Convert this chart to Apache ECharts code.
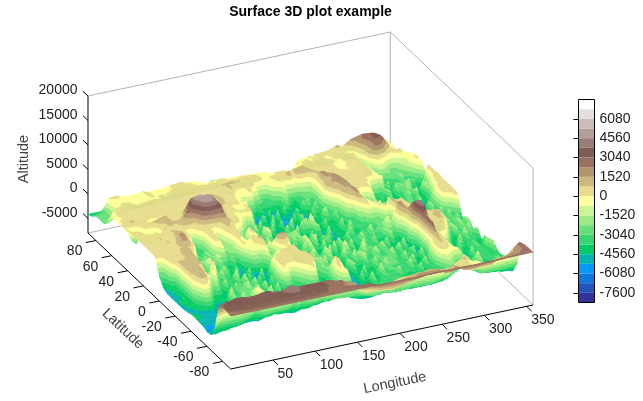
<!DOCTYPE html>
<html><head><meta charset="utf-8">
<style>html,body{margin:0;padding:0;background:#fff}#c{width:643px;height:401px}</style>
<script src="https://cdn.jsdelivr.net/npm/echarts@6/dist/echarts.min.js"></script>
</head><body><div id="c"></div>
<script>
const chartTitle='Surface 3D plot example';
const lonTicks=[50,100,150,200,250,300,350];
const latTicks=[80,60,40,20,0,-20,-40,-60,-80];
const altTicks=[20000,15000,10000,5000,0,-5000];
const barTicks=[6080,4560,3040,1520,0,-1520,-3040,-4560,-6080,-7600];
const bandLows=[-8360,-7600,-6840,-6080,-5320,-4560,-3800,-3040,-2280,-1520,-760,0,760,1520,2280,3040,3800,4560,5320,6080,6840];
const bandColors=['#333399','#2255bb','#1177dd','#0099ff','#00b3b3','#00cc66','#33d670','#66e07a','#99eb85','#ccf58f','#ffff99','#e6dc8b','#ccb87d','#b3946f','#997062','#805c54','#997c76','#b39e99','#ccbdba','#e6dedd','#ffffff'];
const bandTop=7600;
const LON_STEP=2.5; // columns run from 0 to 357.5
const latitudes=[90,85,80,75,70,65,60,55,50,45,40,35,30,25,20,15,10,5,0,-5,-10,-15,-20,-25,-30,-35,-40,-45,-50,-55,-60,-65,-70,-75,-80,-85,-90];
const ELEV_UNIT=100; // altitude rows are in hundreds of metres
const n90=[-42,-42,-42,-42,-42,-42,-42,-42,-42,-42,-42,-42,-42,-42,-42,-42,-42,-42,-42,-42,-42,-42,-42,-42, -42,-42,-42,-42,-42,-42,-42,-42,-42,-42,-42,-42,-42,-42,-42,-42,-42,-42,-42,-42,-42,-42,-42,-42, -42,-42,-42,-42,-42,-42,-42,-42,-42,-42,-42,-42,-42,-42,-42,-42,-42,-42,-42,-42,-42,-42,-42,-42, -42,-42,-42,-42,-42,-42,-42,-42,-42,-42,-42,-42,-42,-42,-42,-42,-42,-42,-42,-42,-42,-42,-42,-42, -42,-42,-42,-42,-42,-42,-42,-42,-42,-42,-42,-42,-42,-42,-42,-42,-42,-42,-42,-42,-42,-42,-42,-42, -42,-42,-42,-42,-42,-42,-42,-42,-42,-42,-42,-42,-42,-42,-42,-42,-42,-42,-42,-42,-42,-42,-42,-42];
const n85=[-38,-37,-36,-35,-34,-36,-38,-39,-40,-40,-39,-38,-38,-38,-38,-38,-38,-39,-39,-40,-40,-40,-40,-40, -40,-40,-40,-40,-40,-40,-39,-38,-38,-38,-38,-38,-38,-37,-37,-37,-38,-38,-38,-37,-38,-37,-36,-35, -35,-34,-34,-32,-30,-28,-25,-20,-18,-17,-18,-22,-25,-28,-30,-30,-30,-31,-32,-33,-34,-35,-36,-36, -36,-37,-38,-38,-38,-38,-38,-38,-38,-38,-38,-38,-38,-38,-38,-38,-38,-38,-38,-37,-36,-35,-34,-32, -30,-29,-28,-27,-26,-25,-24,-23,-22,-20,-18,-16,-15,-13,-12,-11,-10,-10,-10,-9,-8,-6,-5,-4, -5,-6,-8,-9,-10,-8,-5,-6,-8,-9,-10,-12,-15,-18,-20,-22,-25,-28,-30,-32,-34,-35,-36,-37];
const n80=[-30,-30,-30,-28,-25,-12,0,1,1,2,2,0,-2,-2,-2,-3,-3,-2,-2,-3,-3,-1,0,-1, -3,-4,-4,-3,-3,-3,-3,-2,-2,-1,-1,0,0,1,1,2,2,1,-1,-1,-1,-1,-2,-3, -3,-8,-15,-18,-20,-21,-22,-24,-25,-26,-26,-27,-26,-27,-28,-28,-28,-29,-30,-30,-30,-30,-31,-32, -33,-33,-33,-34,-34,-34,-35,-36,-36,-36,-36,-36,-36,-36,-36,-36,-36,-36,-35,-34,-32,-30,-28,-15, -3,-3,-2,-1,0,0,-1,0,1,1,2,2,2,3,3,5,6,8,10,8,5,6,8,12, 15,17,18,19,20,21,22,21,20,18,15,12,10,8,5,3,2,0,-3,-10,-20,-24,-28,-30];
const n75=[-30,-30,-30,-28,-25,-14,-3,-3,-2,-3,-3,-3,-3,-3,-3,-3,-3,-3,-3,-3,-3,-2,0,3, 2,-1,-2,-2,-1,-1,-1,-1,-1,0,0,1,1,1,2,2,3,3,3,2,1,0,-1,-1, -1,-1,-1,-1,-1,-1,-1,0,1,1,1,0,-1,-1,-1,-1,-1,-1,-1,-1,-2,-2,-3,-3, -3,-3,-3,-3,-3,-4,-5,-12,-20,-25,-30,-33,-35,-36,-35,-36,-35,-33,-30,-18,-3,-3,-3,-1, 1,1,2,1,-1,0,1,1,2,1,0,-1,-2,0,3,3,3,3,3,2,1,-2,-5,-3, -2,4,10,16,22,25,28,29,30,29,28,25,22,16,8,4,1,0,-2,-8,-15,-20,-25,-28];
const n70=[-30,-30,-30,-28,-25,-22,-20,-10,0,1,2,1,1,-1,-2,-2,-2,-1,-1,-1,-1,-1,-1,-1, -1,-1,0,1,1,0,0,1,1,1,1,2,2,2,3,4,5,5,4,3,3,3,2,2, 2,1,1,2,3,2,2,1,1,1,1,1,1,1,1,1,1,2,2,2,3,3,4,3, 2,1,-1,-1,-1,-1,-1,-1,-1,0,0,0,0,0,-1,-5,-10,-8,-5,-2,0,1,1,2, 2,2,3,3,2,2,1,1,2,1,1,1,1,0,-1,-1,0,1,3,4,5,5,5,-8, -20,-12,-5,3,12,18,22,28,32,32,32,30,25,18,12,5,-3,-8,-15,-20,-25,-28,-30,-30];
const n65=[-20,-12,-5,1,5,6,7,5,3,2,1,2,3,2,1,1,1,1,1,1,2,2,2,3, 4,2,1,1,1,1,1,1,1,1,1,1,1,1,2,3,4,5,5,5,4,4,5,4, 3,2,2,3,5,7,8,8,8,9,10,10,9,8,8,7,6,5,5,5,5,4,3,2, 1,0,-1,-1,-1,0,1,1,1,2,3,3,3,3,4,6,8,9,10,11,12,8,5,4, 3,3,3,3,3,3,3,3,2,1,1,0,-1,-1,-1,-1,-1,0,1,1,2,3,4,-5, -20,-25,-25,-8,10,16,22,26,28,24,20,12,5,1,-2,1,3,4,5,1,-3,-6,-8,-14];
const n60=[-2,-1,-1,2,5,4,3,2,1,1,1,1,1,1,2,2,2,2,1,1,2,2,2,2, 3,2,1,1,1,1,1,1,1,1,1,1,1,2,3,4,4,3,3,3,4,4,4,3, 3,3,3,2,2,2,3,5,10,5,1,0,-1,-1,-2,0,1,2,3,1,-3,-14,-25,-30, -35,-32,-30,-18,-5,-3,-1,0,1,1,2,8,15,6,-3,6,15,14,12,12,12,11,10,8, 6,6,5,5,5,4,4,3,3,2,1,0,-1,-1,-1,0,1,2,3,3,3,2,1,-12, -25,-28,-30,-28,-25,-14,-3,-4,-5,-12,-20,-22,-25,-25,-25,-20,-15,-12,-10,-8,-7,-4,-2,-2];
const n55=[-1,-1,-1,0,1,0,0,0,1,1,2,2,2,2,2,2,1,1,1,1,1,1,2,2, 3,2,2,1,1,1,1,1,2,2,3,6,10,9,8,6,5,6,8,10,12,11,10,8, 6,5,5,5,5,6,8,4,0,-3,-5,-8,-10,-8,-7,-1,5,-15,-30,-34,-38,-36,-35,-34, -35,-35,-35,-36,-38,-34,-30,-18,-5,-20,-30,-35,-40,-38,-35,-32,-28,-24,-20,-20,-20,-10,2,6, 10,9,8,7,6,5,5,4,3,2,2,1,1,1,1,0,0,1,3,4,5,4,3,0, -2,-16,-28,-30,-32,-31,-30,-29,-28,-27,-25,-25,-25,-26,-27,-26,-25,-20,-15,-10,-2,-1,1,0];
const n50=[-1,0,2,3,4,4,4,3,3,2,2,2,2,2,2,1,1,1,0,0,1,1,2,2, 3,3,3,4,5,5,5,5,6,12,20,20,20,19,18,19,20,16,12,11,10,8,7,8, 9,7,5,4,3,4,5,0,-5,-8,-10,-12,-15,-22,-30,-48,-60,-58,-58,-30,-55,-54,-53,-53, -53,-53,-54,-52,-50,-49,-48,-20,-46,-46,-46,-45,-43,-42,-40,-39,-38,-25,-34,-32,-30,-14,1,10, 20,18,15,14,12,10,8,6,5,5,4,3,3,3,3,3,3,4,4,5,5,4,3,0, -2,-16,-30,-35,-40,-41,-42,-41,-40,-39,-38,-37,-36,-18,-35,-35,-35,-35,-40,-30,-20,-10,-1,-2];
const n45=[1,3,5,8,10,8,5,3,1,2,2,0,-1,-5,-10,-8,-5,-2,0,-2,-3,-1,1,1, 1,1,2,3,4,4,5,5,6,10,15,14,12,14,15,15,15,14,12,11,10,10,10,9, 8,5,2,2,3,4,5,-2,-10,-5,0,-25,-50,-52,-55,-56,-57,-57,-56,-56,-55,-56,-58,-57, -56,-55,-55,-55,-30,-54,-54,-53,-52,-51,-50,-48,-46,-45,-44,-20,-40,-38,-36,-33,-30,-12,5,8, 12,14,15,16,18,14,10,7,5,4,3,2,2,1,0,1,2,2,2,2,2,0,-1,-3, -4,-4,-4,-28,-50,-49,-48,-45,-42,-25,-30,-29,-28,-30,-32,-37,-42,-45,-48,-47,-46,-43,-40,-20];
const n40=[3,-10,-20,-24,-28,-18,-10,-2,6,3,1,5,8,10,11,13,15,15,15,6,-3,0,2,2, 2,2,3,12,25,32,40,30,20,17,15,14,14,16,20,18,15,15,15,14,12,8,5,2, 0,2,3,-12,-25,-28,-30,-15,3,-30,-58,-56,-55,-55,-55,-56,-56,-28,-57,-57,-56,-55,-55,-55, -56,-57,-58,-57,-56,-55,-54,-54,-54,-30,-52,-51,-50,-49,-48,-47,-46,-24,-42,-36,-30,-10,10,13, 15,16,16,20,22,18,15,10,6,4,3,2,2,3,3,4,5,2,-1,-16,-30,-38,-45,-34, -50,-50,-50,-49,-48,-46,-44,-40,-35,-20,-30,-25,-20,-14,-30,-35,-40,-45,-50,-48,-45,-20,5,4];
const n35=[3,4,5,4,3,-4,-12,-18,-25,-14,-5,-15,-25,-10,4,5,5,10,15,12,10,10,10,10, 10,18,25,28,30,40,50,52,55,52,50,50,50,48,45,40,35,26,18,12,8,4,1,0, 0,0,-1,0,0,2,5,4,3,-28,-60,-60,-60,-58,-57,-56,-56,-55,-54,-22,-55,-54,-53,-51, -50,-52,-55,-56,-56,-56,-55,-30,-56,-56,-55,-54,-54,-52,-50,-49,-48,-46,-45,-44,-42,-34,-20,-4, 8,10,12,16,18,17,16,12,7,5,3,2,2,3,4,2,1,-18,-35,-44,-50,-36,-52,-30, -52,-52,-53,-28,-50,-48,-45,-40,-35,-30,-25,-16,-30,-34,-38,-40,-42,-43,-44,-37,-30,-12,2,3];
const n30=[4,4,4,5,5,3,2,2,2,2,2,1,1,5,8,7,7,5,4,1,-1,3,7,8, 10,10,10,8,6,12,20,32,45,48,50,50,50,46,40,38,35,20,8,6,5,3,2,1, 1,-1,-3,-10,-20,-32,-45,-28,-15,-32,-55,-57,-58,-58,-57,-56,-55,-20,-52,-54,-55,-55,-56,-48, -40,-46,-50,-53,-54,-55,-55,-52,-50,-49,-48,-47,-46,-45,-44,-43,-42,-18,-40,-38,-35,-36,-38,-34, -30,-10,10,12,15,15,15,8,2,1,0,-10,-20,-25,-30,-16,-5,-22,-40,-48,-54,-52,-50,-52, -55,-55,-55,-52,-50,-46,-42,-36,-30,-18,-30,-36,-42,-46,-50,-48,-45,-40,-35,-16,-2,2,6,5];
const n25=[3,4,5,5,6,5,4,4,5,4,3,3,3,3,3,5,8,8,8,4,1,1,2,-14, -30,-30,-30,-14,1,2,3,2,1,1,1,1,1,2,4,10,15,14,12,8,5,4,3,1, -1,-20,-40,-48,-55,-52,-50,-55,-60,-57,-55,-56,-58,-28,-58,-57,-56,-57,-58,-54,-50,-48,-45,-48, -50,-51,-52,-51,-50,-25,-50,-49,-48,-48,-48,-46,-45,-45,-46,-44,-42,-41,-40,-41,-42,-20,-42,-38, -35,-20,-5,3,10,15,20,12,3,-8,-20,-22,-25,-28,-30,-25,-20,-32,-45,-50,-54,-52,-50,-54, -58,-56,-55,-52,-48,-42,-35,-30,-25,-30,-35,-42,-50,-52,-55,-50,-44,-36,-30,-14,1,2,4,3];
const n20=[3,3,4,5,5,5,4,6,8,7,6,5,4,4,4,7,10,12,15,10,5,3,1,-14, -30,-32,-35,-32,-30,-12,6,5,4,0,-5,-12,-20,-8,3,6,10,6,3,1,-1,-12,-25,-30, -35,-45,-55,-52,-50,-50,-50,-42,-35,-10,-30,-42,-55,-56,-58,-58,-58,-54,-50,-52,-55,-30,-52,-54, -55,-52,-50,-49,-48,-12,-30,-5,-20,-32,-45,-46,-48,-48,-48,-47,-46,-45,-44,-43,-42,-41,-40,-39, -38,-36,-35,-32,-30,-6,15,10,5,2,-1,-15,-30,-35,-40,-20,-8,-18,-30,-14,-5,-28,-55,-55, -56,-56,-56,-52,-48,-42,-35,-30,-25,-32,-42,-46,-50,-50,-50,-42,-35,-16,-2,1,3,3,3,3];
const n15=[3,3,3,3,4,3,3,4,5,6,8,6,5,6,8,14,20,18,15,2,-10,-18,-25,-30, -38,-36,-35,-32,-30,-12,6,4,2,-12,-25,-26,-26,-14,-5,0,3,4,6,-10,-25,-32,-40,-18, 4,-20,-45,-48,-50,-51,-52,-54,-55,-20,-40,-48,-55,-58,-60,-59,-58,-57,-55,-25,-50,-49,-48,-52, -55,-55,-55,-53,-52,-51,-50,-49,-48,-22,-48,-49,-50,-50,-50,-48,-46,-45,-44,-43,-42,-42,-42,-40, -38,-37,-36,-35,-35,-18,-30,-14,3,-1,-5,0,5,-12,-30,-32,-35,-22,-30,-12,-45,-18,-15,-25, -45,-48,-52,-51,-50,-45,-40,-30,-27,-33,-40,-46,-52,-51,-50,-40,-30,-12,1,1,2,2,3,3];
const n10=[3,3,3,3,4,4,4,4,4,4,5,5,5,10,15,16,18,14,8,6,5,-15,-35,-30, -30,-35,-40,-35,-30,-14,1,1,2,-14,-30,-32,-33,-22,-20,-8,2,2,2,-10,-22,-26,-30,-14, 4,0,-6,-28,-55,-52,-50,-45,-40,-48,-55,-52,-50,-15,-45,-48,-50,-35,-20,-32,-45,-46,-48,-49, -50,-51,-52,-51,-50,-49,-48,-49,-50,-50,-50,-50,-50,-49,-48,-47,-46,-45,-45,-43,-42,-42,-43,-41, -40,-39,-38,-38,-38,-38,-38,-35,-32,-30,-28,-29,-30,-12,5,1,-2,4,10,7,5,6,8,3, -2,-22,-40,-42,-45,-42,-40,-35,-30,-32,-35,-42,-48,-47,-46,-42,-38,-16,-1,1,3,3,3,3];
const n5=[2,2,2,3,4,4,5,5,5,5,5,6,8,8,8,7,6,4,2,-12,-25,-36,-45,-42, -40,-38,-35,-22,-25,-25,-25,-10,-5,-20,-33,-34,-35,-25,-15,-8,1,-2,-4,-4,-4,1,5,-14, -30,-30,-30,-35,-40,-40,-40,-39,-38,-39,-40,-15,-38,-34,-30,-35,-40,-40,-40,-41,-42,-20,-45,-48, -50,-50,-50,-49,-48,-48,-48,-25,-48,-48,-48,-48,-48,-46,-45,-44,-44,-43,-42,-41,-40,-40,-40,-40, -40,-39,-38,-36,-35,-35,-35,-33,-32,-31,-30,-27,-25,-26,-28,-29,-30,-10,10,8,5,5,5,3, 2,-2,-5,-18,-32,-36,-40,-38,-35,-35,-35,-30,-25,-32,-40,-42,-45,-42,-40,-32,-25,-12,1,2];
const eq0=[-30,-27,-25,-10,5,4,4,4,4,5,6,9,12,14,15,9,3,-6,-15,-30,-48,-46,-45,-40, -35,-38,-40,-35,-30,-30,-30,-36,-42,-41,-40,-42,-45,-45,-45,-22,2,0,-2,-1,-1,2,6,8, 10,-12,-35,-14,-5,-12,-20,-25,-30,-30,-30,-14,-30,-28,-25,-30,-35,-38,-42,-41,-40,-42,-45,-48, -50,-51,-52,-51,-50,-49,-48,-47,-46,-45,-44,-44,-44,-43,-42,-42,-42,-40,-38,-37,-36,-34,-32,-31, -30,-30,-30,-31,-32,-31,-30,-29,-28,-26,-25,-12,-5,-14,-25,-10,5,18,20,15,10,6,3,2, 2,2,2,0,-2,-20,-38,-39,-40,-37,-35,-14,-20,-22,-25,-30,-35,-38,-40,-42,-45,-42,-40,-35];
const s5=[-45,-40,-35,-18,-2,1,4,4,5,6,7,10,13,12,12,3,-5,-22,-40,-42,-45,-18,-5,-26, -40,-38,-35,-32,-30,-30,-30,-36,-42,-44,-45,-47,-50,-50,-50,-32,-45,-24,-3,-2,-2,-2,-2,1, 5,-14,-30,-35,-40,-8,14,16,18,15,12,2,-10,-18,-25,-28,-30,-35,-40,-14,-40,-45,-50,-50, -50,-51,-52,-52,-52,-51,-50,-50,-50,-49,-48,-46,-45,-44,-44,-43,-42,-41,-40,-38,-36,-34,-32,-34, -36,-35,-35,-36,-38,-38,-38,-38,-38,-36,-35,-32,-30,-32,-35,-16,0,12,16,8,3,2,1,1, 1,1,1,1,1,-6,-15,-26,-38,-42,-45,-42,-40,-20,-35,-32,-30,-32,-35,-40,-45,-45,-45,-45];
const s10=[-50,-48,-45,-44,-42,-14,10,10,10,10,10,10,10,9,8,2,-5,-18,-35,-38,-40,-38,-35,-32, -30,-32,-35,-14,-25,-32,-40,-45,-50,-50,-50,-51,-52,-51,-50,-52,-55,-55,-55,-52,-50,-48,-45,-28, -10,-20,-30,-12,-20,-14,-8,-3,1,-3,-8,-20,-35,-38,-40,-42,-45,-20,-40,-42,-45,-18,-42,-41, -40,-42,-45,-47,-48,-47,-45,-46,-48,-47,-46,-22,-40,-41,-42,-41,-40,-41,-42,-40,-38,-36,-35,-33, -32,-35,-38,-39,-40,-41,-42,-43,-44,-44,-44,-46,-48,-49,-50,-52,-55,-20,5,18,30,15,3,3, 3,4,5,5,5,6,8,6,5,-14,-35,-42,-48,-46,-45,-42,-40,-20,-35,-32,-30,-38,-45,-48];
const s15=[-50,-48,-45,-42,-40,-10,12,11,11,11,12,10,8,8,8,-6,-25,-30,-35,-8,10,-12,-38,-36, -35,-36,-38,-39,-40,-45,-50,-52,-55,-53,-52,-51,-50,-51,-52,-52,-52,-54,-55,-55,-55,-52,-50,-48, -45,-20,-5,-1,2,1,1,1,1,3,5,-6,-20,-25,-30,-32,-35,-33,-30,-12,-25,-26,-28,-29, -30,-12,-25,-35,-45,-42,-40,-42,-45,-42,-40,-14,-30,-32,-35,-36,-38,-36,-35,-32,-30,-30,-30,-31, -32,-33,-34,-36,-38,-39,-40,-41,-42,-44,-45,-46,-48,-49,-50,-48,-45,-18,5,24,40,42,40,18, 3,3,4,6,8,9,10,8,7,0,-10,-28,-50,-48,-45,-40,-35,-16,-30,-29,-30,-38,-45,-48];
const s20=[-50,-49,-48,-46,-45,-16,10,10,10,10,10,9,8,4,0,-14,-30,-12,5,-14,-32,-35,-38,-38, -38,-34,-30,-31,-32,-36,-40,-42,-45,-47,-48,-49,-50,-50,-50,-49,-48,-50,-52,-51,-50,-26,-5,-1, 3,3,4,5,5,4,3,2,2,2,3,-1,-5,-16,-30,-32,-35,-28,-20,-28,-35,-32,-30,-32, -35,-14,-25,-40,-55,-52,-48,-45,-42,-41,-40,-38,-35,-36,-38,-39,-40,-14,-30,-31,-32,-31,-30,-30, -30,-31,-32,-34,-35,-36,-38,-39,-40,-41,-42,-43,-44,-46,-48,-49,-50,-48,-45,-5,35,38,38,20, 3,4,6,6,7,8,9,3,-2,-16,-30,-40,-48,-46,-45,-40,-35,-32,-30,-16,-32,-38,-45,-48];
const s25=[-50,-42,-35,-40,-45,-18,5,9,11,11,11,10,8,3,-2,-14,-30,-8,-15,-30,-48,-46,-45,-45, -45,-42,-40,-35,-30,-34,-38,-36,-35,-38,-40,-42,-45,-48,-50,-51,-52,-54,-55,-50,-45,-22,2,3, 5,4,4,5,6,4,2,2,1,2,3,3,3,-8,-20,-28,-35,-32,-28,-14,-38,-37,-35,-32, -30,-30,-30,-45,-60,-55,-50,-49,-48,-45,-42,-41,-40,-16,-38,-36,-35,-35,-35,-32,-30,-31,-32,-32, -32,-31,-30,-29,-28,-32,-35,-38,-40,-39,-38,-36,-35,-38,-40,-42,-45,-48,-50,-8,30,16,5,3, 2,2,3,5,8,4,0,-14,-30,-40,-48,-49,-50,-46,-42,-38,-35,-32,-30,-32,-35,-42,-48,-49];
const s30=[-50,-46,-42,-44,-45,-20,0,5,10,11,13,8,2,-16,-35,-40,-45,-42,-40,-42,-45,-46,-48,-46, -45,-40,-35,-30,-25,-28,-30,-30,-30,-32,-35,-36,-38,-39,-40,-42,-45,-48,-50,-42,-35,-12,2,3, 4,3,3,2,2,2,2,1,1,1,2,5,8,-16,-45,-38,-30,-25,-20,-28,-35,-35,-35,-32, -30,-32,-35,-50,-65,-58,-52,-51,-50,-48,-45,-44,-42,-40,-38,-36,-35,-34,-32,-31,-30,-30,-30,-30, -30,-30,-30,-31,-32,-35,-38,-38,-38,-37,-36,-37,-38,-40,-42,-44,-45,-48,-50,-8,30,18,8,4, 1,1,2,3,4,-12,-30,-38,-45,-46,-48,-46,-45,-42,-38,-35,-32,-33,-35,-40,-45,-46,-48,-49];
const s35=[-48,-48,-48,-45,-42,-38,-35,-18,0,-1,-2,-20,-40,-45,-50,-49,-48,-46,-45,-42,-40,-38,-35,-32, -30,-29,-28,-26,-25,-25,-25,-26,-28,-32,-35,-36,-38,-38,-38,-40,-42,-44,-45,-46,-48,-22,1,-2, -5,-22,-40,-32,-25,-12,-2,0,2,2,3,4,6,-20,-45,-46,-48,-38,-30,-22,-15,-6,2,-14, -30,-40,-50,-55,-60,-56,-52,-51,-50,-49,-48,-46,-45,-44,-42,-41,-40,-38,-36,-34,-32,-31,-30,-30, -30,-30,-30,-31,-32,-33,-35,-35,-36,-37,-38,-40,-42,-44,-45,-46,-48,-42,-35,-4,30,16,4,2, 1,-2,-5,-28,-50,-48,-45,-46,-48,-48,-48,-45,-42,-38,-35,-32,-28,-32,-35,-40,-45,-46,-48,-48];
const s40=[-45,-46,-48,-49,-50,-49,-48,-49,-50,-49,-48,-49,-50,-50,-50,-49,-48,-44,-40,-35,-30,-32,-35,-35, -35,-32,-28,-26,-25,-28,-30,-30,-30,-32,-35,-35,-35,-35,-35,-35,-35,-38,-40,-42,-45,-48,-50,-48, -45,-48,-50,-48,-45,-38,-30,-20,-10,-3,3,-14,-30,-40,-48,-49,-50,-42,-35,-18,-1,2,5,-10, -25,-38,-50,-50,-50,-51,-52,-51,-50,-49,-48,-46,-45,-44,-42,-40,-38,-36,-35,-32,-30,-30,-30,-30, -30,-30,-30,-31,-32,-35,-38,-38,-38,-38,-38,-39,-40,-42,-45,-42,-40,-20,-2,5,12,8,3,2, 1,-16,-35,-42,-50,-52,-55,-54,-52,-51,-50,-48,-45,-40,-35,-32,-30,-31,-32,-36,-40,-42,-45,-45];
const s45=[-45,-44,-42,-45,-48,-49,-50,-50,-50,-50,-50,-45,-40,-38,-35,-32,-30,-30,-30,-28,-25,-30,-35,-38, -40,-35,-30,-20,-12,-20,-30,-32,-35,-36,-38,-36,-35,-34,-32,-32,-32,-35,-38,-42,-45,-46,-48,-46, -45,-45,-45,-44,-42,-42,-42,-41,-40,-38,-35,-40,-45,-46,-48,-46,-45,-38,-30,-10,8,-2,-10,-11, -12,-26,-40,-46,-52,-52,-52,-51,-50,-49,-48,-46,-45,-44,-42,-40,-38,-35,-32,-31,-30,-30,-30,-32, -35,-35,-35,-35,-35,-36,-38,-38,-38,-39,-40,-41,-42,-42,-42,-36,-30,-12,3,6,10,6,3,1, -1,-10,-20,-38,-55,-56,-58,-55,-52,-51,-50,-48,-45,-40,-35,-34,-32,-34,-35,-38,-40,-41,-42,-44];
const s50=[-45,-48,-50,-51,-52,-51,-50,-50,-50,-49,-48,-46,-45,-40,-35,-35,-35,-30,-25,-22,-20,-25,-30,-30, -30,-25,-20,-10,0,-4,-8,-16,-25,-30,-35,-36,-38,-38,-38,-39,-40,-41,-42,-42,-42,-42,-42,-42, -42,-41,-40,-39,-38,-38,-38,-38,-38,-38,-38,-39,-38,-39,-40,-42,-45,-40,-35,-22,-10,-8,-5,-16, -30,-40,-48,-49,-50,-50,-50,-49,-48,-46,-45,-44,-42,-40,-38,-34,-30,-30,-30,-31,-32,-34,-35,-36, -38,-38,-38,-39,-40,-40,-40,-41,-42,-42,-42,-42,-42,-42,-42,-38,-35,-18,-1,3,5,2,0,-1, -2,-4,-5,-10,-15,-22,-30,-34,-38,-39,-40,-41,-42,-38,-35,-32,-30,-32,-35,-36,-38,-36,-35,-40];
const s55=[-45,-50,-55,-58,-60,-58,-55,-52,-50,-48,-45,-45,-45,-44,-42,-41,-40,-40,-40,-39,-38,-39,-40,-41, -42,-38,-35,-32,-30,-25,-20,-24,-28,-32,-35,-38,-40,-42,-45,-45,-45,-45,-45,-45,-45,-42,-40,-40, -40,-39,-38,-38,-38,-36,-35,-35,-35,-38,-40,-38,-35,-32,-30,-30,-30,-32,-35,-38,-40,-44,-48,-49, -50,-50,-50,-49,-48,-46,-45,-44,-42,-40,-38,-36,-35,-32,-30,-31,-32,-34,-35,-36,-38,-39,-40,-41, -42,-42,-42,-42,-42,-42,-42,-42,-42,-42,-42,-42,-42,-42,-42,-42,-40,-39,-38,-22,-8,-10,-15,-24, -35,-38,-40,-35,-30,-26,-22,-26,-30,-20,-12,-24,-35,-45,-55,-48,-40,-35,-30,-30,-30,-31,-32,-38];
const s60=[-50,-52,-55,-56,-58,-56,-55,-53,-52,-52,-52,-51,-50,-50,-50,-50,-50,-49,-48,-48,-48,-48,-48,-49, -50,-49,-48,-46,-45,-45,-45,-44,-42,-44,-45,-45,-45,-45,-45,-46,-48,-48,-48,-46,-45,-45,-45,-45, -45,-44,-42,-42,-42,-41,-40,-39,-38,-39,-40,-38,-35,-32,-30,-31,-32,-35,-38,-40,-42,-44,-45,-46, -48,-49,-50,-50,-50,-50,-50,-49,-48,-48,-48,-46,-45,-44,-42,-41,-40,-40,-40,-41,-42,-44,-45,-46, -48,-48,-48,-48,-48,-48,-48,-48,-48,-48,-48,-48,-48,-46,-45,-42,-40,-38,-35,-35,-35,-35,-35,-32, -30,-25,-20,-25,-30,-32,-35,-35,-35,-28,-20,-32,-45,-48,-50,-42,-35,-32,-30,-30,-30,-35,-40,-45];
const s65=[-48,-48,-48,-46,-45,-45,-45,-45,-45,-44,-42,-42,-42,-41,-40,-38,-35,-32,-30,-25,-20,-12,-5,-15, -25,-28,-30,-30,-30,-29,-28,-28,-28,-28,-28,-28,-28,-26,-25,-15,-5,-15,-25,-15,-5,-12,-20,-22, -25,-25,-25,-22,-20,-20,-20,-22,-25,-25,-25,-26,-28,-29,-30,-30,-30,-30,-30,-30,-30,-31,-32,-32, -33,-34,-35,-35,-35,-35,-35,-35,-35,-35,-35,-36,-38,-38,-38,-38,-38,-38,-38,-38,-38,-39,-40,-40, -40,-40,-40,-40,-40,-40,-40,-40,-40,-40,-40,-39,-38,-38,-38,-36,-35,-32,-30,-28,-25,-15,-5,0, 5,-5,-15,-22,-30,-32,-35,-36,-38,-39,-40,-40,-40,-41,-42,-42,-42,-44,-45,-45,-45,-46,-48,-48];
const s70=[-28,-22,-15,-10,-5,-4,-3,-3,-3,-3,-3,-4,-5,-4,-3,1,5,8,10,12,15,15,15,12, 8,12,15,12,10,5,0,1,2,4,5,6,8,9,10,11,12,12,12,14,15,15,15,15, 15,15,15,15,15,15,15,14,12,11,10,9,8,8,8,6,5,4,3,-1,-5,-12,-20,-22, -25,-26,-28,-28,-30,-28,-30,-28,-28,-28,-30,-28,-30,-30,-32,-30,-32,-30,-30,-30,-30,-26,-25,-28, -30,-28,-28,-28,-30,-28,-30,-28,-30,-26,-25,-22,-20,-20,-20,-16,-15,-6,2,4,5,8,10,4, -2,-3,-3,-3,-3,-16,-30,-30,-30,-30,-32,-30,-30,-30,-30,-30,-30,-30,-30,-28,-28,-26,-25,-26];
const s75=[24,27,28,30,30,30,31,32,33,33,33,32,32,31,30,30,30,30,31,31,33,33,34,34, 33,30,25,22,20,24,25,25,25,26,28,28,28,29,30,30,30,30,30,30,30,30,30,30, 30,30,30,30,30,29,28,26,25,25,25,22,20,19,18,16,15,8,0,-3,-5,-5,-5,-5, -5,-5,-5,-5,-5,-5,-6,-5,-5,-4,-3,0,2,3,4,4,5,4,4,3,2,5,8,6, 5,6,8,9,10,8,6,5,4,3,3,3,3,4,5,5,5,5,6,5,4,3,2,0, -1,-1,-1,-1,-1,-2,-3,-3,-3,-2,-1,-2,-3,0,2,2,2,6,10,14,18,22,25,24];
const s80=[30,31,33,33,34,34,34,34,36,36,38,38,38,38,38,38,38,38,38,38,38,38,38,38, 38,38,38,38,38,40,42,44,46,44,42,40,38,38,38,38,36,36,36,35,35,34,34,33, 32,32,30,29,28,26,25,25,25,23,22,21,20,19,18,16,15,10,5,2,0,0,0,0, 0,0,0,0,0,0,1,2,3,4,5,6,8,9,10,11,12,14,15,15,15,15,15,15, 15,15,15,15,15,15,15,14,12,11,10,11,12,14,15,12,10,8,5,4,3,1,0,0, 0,0,0,0,0,0,0,4,8,10,12,12,12,13,14,15,16,17,18,19,20,22,25,27];
const s85=[30,31,32,32,33,33,33,34,34,35,35,35,35,35,35,35,36,36,36,36,36,36,36,36, 36,36,36,36,36,36,36,36,37,37,37,37,37,36,36,36,36,35,35,34,34,34,33,32, 30,29,28,28,28,28,28,27,27,26,26,26,26,26,26,26,25,25,25,25,25,20,15,12, 10,7,5,5,5,4,3,4,5,6,8,9,10,11,12,12,13,14,15,15,16,17,18,18, 18,18,18,18,18,18,18,16,15,14,14,15,16,17,18,16,14,13,12,11,10,11,12,13, 14,14,14,14,14,15,16,17,18,18,18,19,20,20,20,21,22,22,22,23,25,26,27,28];
const s90=[28,28,28,28,28,28,28,28,28,28,28,28,28,28,28,28,28,28,28,28,28,28,28,28, 28,28,28,28,28,28,28,28,28,28,28,28,28,28,28,28,28,28,28,28,28,28,28,28, 28,28,28,28,28,28,28,28,28,28,28,28,28,28,28,28,28,28,28,28,28,28,28,28, 28,28,28,28,28,28,28,28,28,28,28,28,28,28,28,28,28,28,28,28,28,28,28,28, 28,28,28,28,28,28,28,28,28,28,28,28,28,28,28,28,28,28,28,28,28,28,28,28, 28,28,28,28,28,28,28,28,28,28,28,28,28,28,28,28,28,28,28,28,28,28,28,28];
// narrow ocean ridges and seamounts seen as streaks: [latitude, longitude, altitude in hundreds of metres]
const indianSpikes=[[-5,57.5,-14],[-10,67.5,-18],[-10,82.5,-24],[-15,60,-16],[-15,92.5,-22],[-20,72.5,-12],[-20,87.5,-26],[-20,102.5,-20],[-25,55,-18],[-25,77.5,-14],[-25,95,-24],[-30,62.5,-20],[-30,85,-16],[-30,105,-22],[-35,52.5,-16],[-35,72.5,-12],[-35,92.5,-18],[-40,47.5,-14],[-40,80,-14],[-40,102.5,-18],[0,52.5,-18],[0,70,-10],[0,87.5,-22],[5,60,-20],[5,90,-18],[10,65,-18],[10,87.5,-16],[-45,57.5,-14],[-45,90,-12],[-50,77.5,-12]];
const northPacificSpikes=[[45,152.5,-24],[45,172.5,-28],[45,190,-24],[45,212.5,-22],[40,160,-26],[40,177.5,-22],[40,200,-26],[40,222.5,-20],[35,152.5,-24],[35,167.5,-20],[35,192.5,-26],[35,215,-22],[30,147.5,-20],[30,172.5,-24],[30,197.5,-22],[30,225,-16],[25,137.5,-14],[25,157.5,-20],[25,180,-16],[25,205,-20],[20,147.5,-14],[20,170,-18],[20,187.5,-16],[20,215,-22],[15,145,-10],[15,162.5,-24],[15,177.5,-14],[15,200,-20],[15,230,-18],[10,137.5,-14],[10,157.5,-16],[10,170,-14],[10,190,-22],[10,210,-20],[10,235,-16],[5,150,-14],[5,165,-16],[5,185,-20],[5,205,-22],[5,230,-18],[0,172.5,-8],[0,185,-12],[0,200,-22],[0,222.5,-20],[0,250,-14]];
const southPacificSpikes=[[-5,172.5,-10],[-5,190,-16],[-5,207.5,-18],[-5,235,-16],[-5,262.5,-18],[-10,172.5,-16],[-10,197.5,-14],[-10,217.5,-18],[-10,245,-20],[-10,265,-18],[-15,187.5,-12],[-15,205,-8],[-15,227.5,-12],[-15,255,-20],[-20,200,-12],[-20,222.5,-10],[-20,245,-16],[-20,270,-18],[-25,172.5,-12],[-25,207.5,-12],[-25,232.5,-14],[-25,260,-16],[-30,195,-18],[-30,215,-14],[-30,247.5,-14],[-30,272.5,-20],[-35,197.5,-20],[-35,222.5,-16],[-35,257.5,-16],[-35,277.5,-18],[-40,205,-20],[-40,230,-14],[-40,262.5,-18],[-45,197.5,-22],[-45,220,-14],[-45,255,-16],[-45,272.5,-18],[-50,205,-18],[-50,237.5,-18],[-50,262.5,-20]];
const atlanticSpikes=[[45,312.5,-20],[45,342.5,-24],[40,302.5,-22],[40,317.5,-18],[35,305,-20],[35,345,-14],[30,302.5,-22],[30,332.5,-16],[25,300,-24],[25,330,-22],[20,305,-22],[20,327.5,-18],[15,307.5,-22],[15,332.5,-20],[10,310,-20],[10,332.5,-18],[5,315,-16],[5,337.5,-18],[0,317.5,-14],[0,342.5,-18],[-5,322.5,-16],[-5,347.5,-20],[-10,332.5,-18],[-10,352.5,-20],[-15,330,-16],[-15,352.5,-18],[-20,332.5,-18],[-25,337.5,-14],[-25,352.5,-20],[-30,327.5,-16],[-35,322.5,-20],[-35,352.5,-20],[-40,317.5,-22],[-40,350,-16],[-45,327.5,-18],[-45,352.5,-16]];
const altitudeRows=[n90,n85,n80,n75,n70,n65,n60,n55,n50,n45,n40,n35,n30,n25,n20,n15,n10,n5,eq0,s5,s10,s15,s20,s25,s30,s35,s40,s45,s50,s55,s60,s65,s70,s75,s80,s85,s90];
const badRows=altitudeRows.map((r,i)=>r.length===144?null:latitudes[i]+':'+r.length).filter(Boolean);
if(badRows.length)console.error('bad rows',badRows.join(' '));
[indianSpikes,northPacificSpikes,southPacificSpikes,atlanticSpikes].forEach(list=>list.forEach(s=>{altitudeRows[latitudes.indexOf(s[0])][Math.round(s[1]/LON_STEP)]=s[2];}));

// oblique parallel projection of the plot box onto the hidden plane axes
const LON_MAX=357.5,ALT_MIN=-8000;
const P0=[230.7,369],PLON=[0.8456,-0.179],PLAT=[-0.7928,-0.7556],PALT=-0.004893;
function project(lon,lat,alt){const a=lat+90;return [P0[0]+lon*PLON[0]+a*PLAT[0],P0[1]+lon*PLON[1]+a*PLAT[1]+(alt-ALT_MIN)*PALT];}

function clipHalf(poly,level,keepAbove){
  const out=[];
  for(let k=0;k<poly.length;k++){
    const a=poly[k],b=poly[(k+1)%poly.length];
    const ia=keepAbove?a[2]>=level:a[2]<=level,ib=keepAbove?b[2]>=level:b[2]<=level;
    if(ia)out.push(a);
    if(ia!==ib){const t=(level-a[2])/(b[2]-a[2]);out.push([a[0]+t*(b[0]-a[0]),a[1]+t*(b[1]-a[1]),level]);}
  }
  return out;
}
function triPieces(tri,api,out){
  const lo=Math.min(tri[0][2],tri[1][2],tri[2][2]),hi=Math.max(tri[0][2],tri[1][2],tri[2][2]);
  for(let b=0;b<bandLows.length;b++){
    const bl=b===0?-1e9:bandLows[b],bh=b+1<bandLows.length?bandLows[b+1]:1e9;
    if(bh<lo||bl>hi)continue;
    let p=tri;
    if(lo<bl)p=clipHalf(p,bl,true);
    if(p.length&&hi>bh)p=clipHalf(p,bh,false);
    if(p.length<3)continue;
    out.push({type:'polygon',silent:true,shape:{points:p.map(v=>api.coord(project(v[0],v[1],v[2])))},style:{fill:bandColors[b],stroke:bandColors[b],lineWidth:0.4}});
  }
}
const nCols=n90.length;
const cells=[];
for(let i=0;i<latitudes.length-1;i++)for(let j=nCols-2;j>=0;j--)cells.push([j,i]);
function renderCell(params,api){
  const j=api.value(0),i=api.value(1);
  const v=(ii,jj)=>[jj*LON_STEP,latitudes[ii],altitudeRows[ii][jj]*ELEV_UNIT];
  const a=v(i,j),b=v(i,j+1),c=v(i+1,j),d=v(i+1,j+1);
  const children=[];
  triPieces([a,b,d],api,children);
  triPieces([a,d,c],api,children);
  return {type:'group',children};
}
const LINE='#000',GREY='#b4b4b4',TXT='#222222',NAME='#444444',FONT='"Liberation Sans",Arial,sans-serif';
function renderFrame(params,api){
  const pt=(lon,lat,alt)=>api.coord(project(lon,lat,alt));
  const seg=(p,q,c)=>({type:'line',silent:true,shape:{x1:p[0],y1:p[1],x2:q[0],y2:q[1]},style:{stroke:c,lineWidth:1}});
  const txt=(x,y,s,align,size,fill,rot)=>({type:'text',silent:true,x,y,rotation:rot||0,style:{text:s,fill:fill,fontSize:size,fontFamily:FONT,align:align,verticalAlign:'middle'}});
  const A=ALT_MIN,T=20000,L=LON_MAX,out=[];
  [[[0,90,T],[L,90,T]],[[L,90,T],[L,-90,T]],[[L,-90,T],[L,-90,A]],[[0,90,A],[L,90,A]],[[L,90,A],[L,-90,A]],[[L,90,A],[L,90,T]]]
    .forEach(s=>out.push(seg(pt(...s[0]),pt(...s[1]),GREY)));
  out.push(seg(pt(0,90,A),pt(0,90,T),LINE),seg(pt(0,90,A),pt(0,-90,A),LINE),seg(pt(0,-90,A),pt(L,-90,A),LINE));
  altTicks.forEach(z=>{const p=pt(0,90,z),q=[p[0]-5,p[1]-4.7];out.push(seg(p,q,LINE),txt(q[0]-5.5,q[1]-0.8,String(z),'right',14,TXT));});
  latTicks.forEach(l=>{const p=pt(0,l,A),q=[p[0]-10,p[1]+2];out.push(seg(p,q,LINE),txt(q[0]-3.5,q[1]+9,String(l),'right',14,TXT));});
  lonTicks.forEach(l=>{const p=pt(l,-90,A),q=[p[0]+5,p[1]+5];out.push(seg(p,q,LINE),txt(p[0]+4.5,p[1]+14,String(l),'left',14,TXT));});
  out.push(txt(24,159,'Altitude','center',14.5,NAME,Math.PI/2));
  out.push(txt(123,329,'Latitude','center',14.5,NAME,-0.76));
  out.push(txt(395,383,'Longitude','center',14.5,NAME,0.2));
  return {type:'group',children:out};
}
function renderBand(params,api){
  const b=params.dataIndex,lo=bandLows[b],hi=b+1<bandLows.length?bandLows[b+1]:bandTop;
  const p=api.coord([0,hi]),q=api.coord([1,lo]);
  return {type:'rect',silent:true,shape:{x:p[0],y:p[1],width:q[0]-p[0],height:q[1]-p[1]},style:{fill:bandColors[b],stroke:null}};
}
function renderBarBox(params,api){
  const p=api.coord([0,bandTop]),q=api.coord([1,bandLows[0]]);
  return {type:'rect',silent:true,shape:{x:p[0],y:p[1],width:q[0]-p[0],height:q[1]-p[1]},style:{fill:'none',stroke:'#000',lineWidth:1}};
}
const chart=echarts.init(document.getElementById('c'),null,{renderer:'canvas'});
chart.setOption({
  animation:false,backgroundColor:'#fff',
  textStyle:{fontFamily:FONT},
  title:{text:chartTitle,left:305.5,top:0,textAlign:'center',textStyle:{fontSize:14,fontWeight:'bold',color:'#000',fontFamily:FONT}},
  grid:[{left:0,right:0,top:0,bottom:0,show:false},{left:578.5,top:99.5,width:16,height:203,show:false}],
  xAxis:[{type:'value',min:0,max:643,show:false,gridIndex:0},{type:'value',min:0,max:1,show:false,gridIndex:1}],
  yAxis:[{type:'value',min:0,max:401,inverse:true,show:false,gridIndex:0},
    {type:'value',min:bandLows[0],max:bandTop,gridIndex:1,position:'right',splitLine:{show:false},axisLine:{show:false},
     axisTick:{show:true,inside:true,length:5,customValues:barTicks,lineStyle:{color:'#000'}},
     axisLabel:{show:true,inside:false,margin:5,customValues:barTicks,formatter:v=>String(v),color:TXT,fontSize:14,fontFamily:FONT}}],
  series:[
    {type:'custom',xAxisIndex:0,yAxisIndex:0,data:[[0,0]],renderItem:renderFrame,clip:false,silent:true,z:1},
    {type:'custom',xAxisIndex:0,yAxisIndex:0,data:cells,encode:{x:0,y:1},renderItem:renderCell,clip:false,silent:true,progressive:0,z:2},
    {type:'custom',xAxisIndex:1,yAxisIndex:1,data:bandLows.map((v,i)=>[i,v]),encode:{y:1},renderItem:renderBand,clip:false,silent:true,z:2},
    {type:'custom',xAxisIndex:1,yAxisIndex:1,data:[[0,0]],renderItem:renderBarBox,clip:false,silent:true,z:3}
  ]
});
</script></body></html>
